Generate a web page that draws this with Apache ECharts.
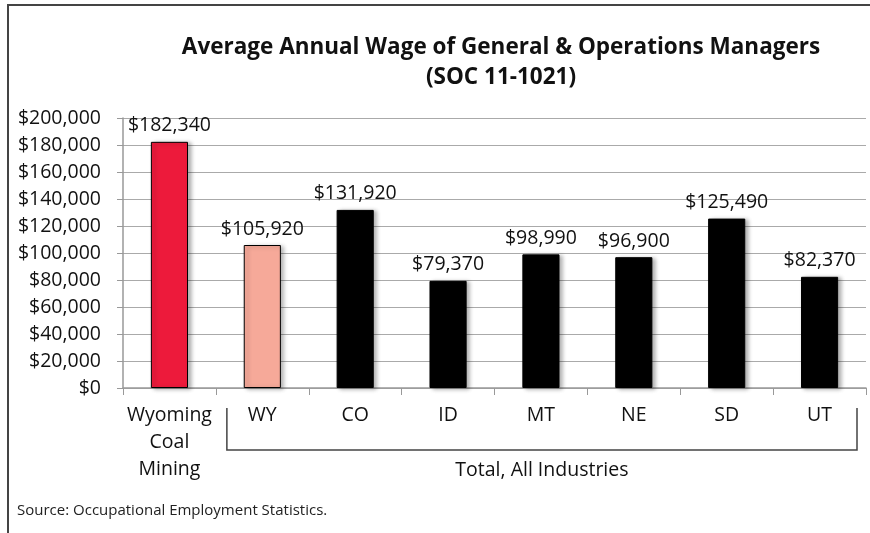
<!DOCTYPE html>
<html>
<head>
<meta charset="utf-8">
<script src="https://cdn.jsdelivr.net/npm/echarts@6/dist/echarts.min.js"></script>
<style>
  html, body { margin: 0; padding: 0; background: #fff; }
  #main { width: 870px; height: 533px; }
</style>
</head>
<body>
<div id="main"></div>
<script>
// categories and wages
var categories = ['Wyoming\nCoal\nMining', 'WY', 'CO', 'ID', 'MT', 'NE', 'SD', 'UT'];
var wages = [182340, 105920, 131920, 79370, 98990, 96900, 125490, 82370];
var barColors = ['#ED1A3B', '#F6A999', '#000', '#000', '#000', '#000', '#000', '#000'];
var groupLabel = 'Total, All Industries';
var sourceText = 'Source: Occupational Employment Statistics.';

var font = '"Open Sans", "Noto Sans", sans-serif';

function money(v) {
  return '$' + String(v).replace(/\B(?=(\d{3})+(?!\d))/g, ',');
}

var chart = echarts.init(document.getElementById('main'));

var option = {
  backgroundColor: '#fff',
  animation: false,
  textStyle: { fontFamily: font },
  title: {
    text: 'Average Annual Wage of General & Operations Managers\n(SOC 11-1021)',
    left: 496,
    textAlign: 'center',
    top: 28,
    textStyle: {
      fontFamily: font,
      fontWeight: 'bold',
      fontSize: 22.5,
      lineHeight: 30,
      color: '#111'
    }
  },
  grid: {
    left: 123,
    right: 4,
    top: 118,
    bottom: 145
  },
  xAxis: {
    type: 'category',
    data: categories,
    axisLine: { lineStyle: { color: '#999', width: 1.5 } },
    axisTick: { show: true, length: 7, lineStyle: { color: '#999' } },
    axisLabel: {
      interval: 0,
      margin: 14,
      fontSize: 19.5,
      lineHeight: 27,
      color: '#111',
      fontFamily: font
    }
  },
  yAxis: {
    type: 'value',
    min: 0,
    max: 200000,
    interval: 20000,
    axisLine: { show: true, lineStyle: { color: '#999', width: 1.5 } },
    axisTick: { show: true, length: 6, lineStyle: { color: '#999' } },
    splitLine: { lineStyle: { color: '#aaa', width: 1.2 } },
    axisLabel: {
      margin: 22,
      fontSize: 19.5,
      color: '#111',
      fontFamily: font,
      formatter: function (v) { return money(v); }
    }
  },
  series: [{
    type: 'bar',
    barWidth: '40%',
    data: wages.map(function (v, i) {
      return { value: v, itemStyle: { color: barColors[i] } };
    }),
    itemStyle: {
      borderColor: '#000',
      borderWidth: 1,
      shadowColor: 'rgba(0,0,0,0.3)',
      shadowBlur: 4,
      shadowOffsetX: 3,
      shadowOffsetY: 1
    },
    label: {
      show: true,
      position: 'top',
      distance: 6,
      fontSize: 19.5,
      color: '#111',
      fontFamily: font,
      formatter: function (p) { return money(p.value); }
    }
  }]
};

chart.setOption(option);

// bracket under the state categories, placed from the axis scale
var xLeft = chart.convertToPixel({ xAxisIndex: 0 }, 'WY');
var xRight = chart.convertToPixel({ xAxisIndex: 0 }, 'UT');
var half = (chart.convertToPixel({ xAxisIndex: 0 }, 'CO') - xLeft) / 2;
var bl = xLeft - half + 11;
var br = xRight + half - 9;
var yTop = 408, yBot = 450;

chart.setOption({
  graphic: [
    {
      type: 'rect',
      shape: { x: 8, y: 5, width: 900, height: 600 },
      style: { fill: 'none', stroke: '#444', lineWidth: 2 },
      silent: true
    },
    {
      type: 'polyline',
      shape: { points: [[bl, yTop], [bl, yBot], [br, yBot], [br, yTop]] },
      style: { fill: 'none', stroke: '#444', lineWidth: 1.5 },
      silent: true
    },
    {
      type: 'text',
      x: (bl + br) / 2,
      y: 470,
      style: {
        text: groupLabel,
        fontFamily: font,
        fontSize: 19.5,
        fill: '#111',
        align: 'center',
        verticalAlign: 'middle'
      }
    },
    {
      type: 'text',
      x: 17,
      y: 511,
      style: {
        text: sourceText,
        fontFamily: font,
        fontSize: 15,
        fill: '#222',
        align: 'left',
        verticalAlign: 'middle'
      }
    }
  ]
});
</script>
</body>
</html>
